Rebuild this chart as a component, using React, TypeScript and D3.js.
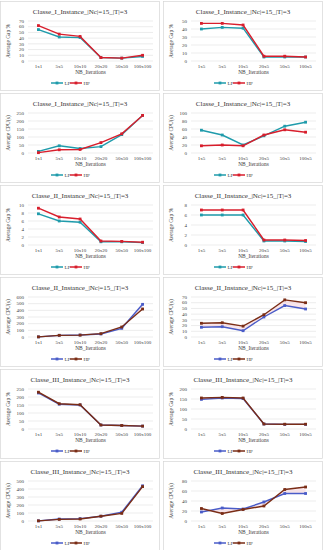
import { useEffect, useRef } from "react"
import * as d3 from "d3"

const catsSquare = ["1x1", "5x5", "10x10", "20x20", "50x50", "100x100"]
const catsFixed = ["1x5", "5x5", "10x5", "20x5", "50x5", "100x5"]

const titles = [
  "Classe_I_Instance_|Nc|=15_|T|=3",
  "Classe_II_Instance_|Nc|=15_|T|=3",
  "Classe_III_Instance_|Nc|=15_|T|=3",
]

// Class I
const c1GapSqLP = [55, 42, 41, 6, 5, 8]
const c1GapSqHP = [62, 47, 43, 6, 5, 10]
const c1GapFxLP = [40, 42, 41, 5, 5, 5]
const c1GapFxHP = [47, 47, 45, 6, 6, 5]
const c1CpuSqLP = [10, 45, 28, 40, 115, 235]
const c1CpuSqHP = [2, 20, 22, 65, 120, 235]
const c1CpuFxLP = [57, 45, 20, 43, 67, 77]
const c1CpuFxHP = [18, 20, 18, 45, 58, 52]

// Class II
const c2GapSqLP = [7.8, 6, 5.7, 0.8, 0.8, 0.6]
const c2GapSqHP = [9.2, 7, 6.5, 1, 0.9, 0.7]
const c2GapFxLP = [6, 6, 6, 0.8, 0.8, 0.7]
const c2GapFxHP = [7, 7, 7, 1, 1, 0.9]
const c2CpuSqLP = [2, 25, 30, 45, 130, 490]
const c2CpuSqHP = [2, 25, 28, 50, 150, 420]
const c2CpuFxLP = [17, 18, 11, 35, 55, 49]
const c2CpuFxHP = [24, 25, 19, 39, 65, 60]

// Class III
const c3GapSqLP = [225, 155, 150, 25, 22, 18]
const c3GapSqHP = [230, 158, 152, 25, 22, 18]
const c3GapFxLP = [148, 155, 152, 25, 23, 23]
const c3GapFxHP = [155, 158, 155, 25, 24, 24]
const c3CpuSqLP = [2, 25, 30, 60, 110, 440]
const c3CpuSqHP = [2, 20, 25, 60, 95, 430]
const c3CpuFxLP = [18, 26, 24, 38, 55, 55]
const c3CpuFxHP = [25, 15, 23, 30, 63, 68]

const gapLabel = "Average Gap %"
const cpuLabel = "Average CPU(s)"

const tealRed = { lp: "#1f9bab", hp: "#d81e2c", shade: false }
const blueBrown = { lp: "#4a5cc8", hp: "#7a2d16", shade: true }

const panels = [
  { title: titles[0], yLabel: gapLabel, cats: catsSquare, lp: c1GapSqLP, hp: c1GapSqHP, max: 70, step: 10, pal: tealRed },
  { title: titles[0], yLabel: gapLabel, cats: catsFixed, lp: c1GapFxLP, hp: c1GapFxHP, max: 50, step: 10, pal: tealRed },
  { title: titles[0], yLabel: cpuLabel, cats: catsSquare, lp: c1CpuSqLP, hp: c1CpuSqHP, max: 250, step: 50, pal: tealRed },
  { title: titles[0], yLabel: cpuLabel, cats: catsFixed, lp: c1CpuFxLP, hp: c1CpuFxHP, max: 100, step: 20, pal: tealRed },
  { title: titles[1], yLabel: gapLabel, cats: catsSquare, lp: c2GapSqLP, hp: c2GapSqHP, max: 10, step: 2, pal: tealRed },
  { title: titles[1], yLabel: gapLabel, cats: catsFixed, lp: c2GapFxLP, hp: c2GapFxHP, max: 8, step: 2, pal: tealRed },
  { title: titles[1], yLabel: cpuLabel, cats: catsSquare, lp: c2CpuSqLP, hp: c2CpuSqHP, max: 600, step: 100, pal: blueBrown },
  { title: titles[1], yLabel: cpuLabel, cats: catsFixed, lp: c2CpuFxLP, hp: c2CpuFxHP, max: 70, step: 10, pal: blueBrown },
  { title: titles[2], yLabel: gapLabel, cats: catsSquare, lp: c3GapSqLP, hp: c3GapSqHP, max: 250, step: 50, pal: blueBrown },
  { title: titles[2], yLabel: gapLabel, cats: catsFixed, lp: c3GapFxLP, hp: c3GapFxHP, max: 200, step: 50, pal: blueBrown },
  { title: titles[2], yLabel: cpuLabel, cats: catsSquare, lp: c3CpuSqLP, hp: c3CpuSqHP, max: 500, step: 100, pal: blueBrown },
  { title: titles[2], yLabel: cpuLabel, cats: catsFixed, lp: c3CpuFxLP, hp: c3CpuFxHP, max: 80, step: 20, pal: blueBrown },
]

const font = "'Liberation Serif', 'DejaVu Serif', serif"
const textColor = "#404040"

export default function App() {
  const svgRef = useRef<SVGSVGElement>(null)

  useEffect(() => {
    document.body.style.margin = "0"
    if (!svgRef.current) return
    d3.select(svgRef.current).selectAll("*").remove()

    const width = 323
    const height = 550
    const pw = 160
    const ph = 90
    const colX = [0, 163]
    const rowStride = 92

    const svg = d3.select(svgRef.current).attr("width", width).attr("height", height)
    svg.append("rect").attr("width", width).attr("height", height).attr("fill", "white")

    const margin = { top: 20, right: 7, bottom: 30, left: 28 }
    const cw = pw - margin.left - margin.right
    const ch = ph - margin.top - margin.bottom

    panels.forEach((p, i) => {
      const col = i % 2
      const row = Math.floor(i / 2)
      const g = svg.append("g").attr("transform", `translate(${colX[col]},${row * rowStride + 1})`)

      g.append("rect")
        .attr("x", 0.5)
        .attr("y", 0.5)
        .attr("width", pw - 1)
        .attr("height", ph - 1)
        .attr("fill", "white")
        .attr("stroke", "#d6d6d6")
        .attr("stroke-width", 0.7)

      g.append("text")
        .attr("x", pw / 2)
        .attr("y", 13)
        .attr("text-anchor", "middle")
        .style("font-family", font)
        .style("font-size", "7px")
        .style("fill", "#333")
        .text(p.title)

      const plot = g.append("g").attr("transform", `translate(${margin.left},${margin.top})`)

      const x = d3.scalePoint<string>().domain(p.cats).range([0, cw]).padding(0.5)
      const y = d3.scaleLinear().domain([0, p.max]).range([ch, 0])
      const ticks = d3.range(0, p.max + p.step / 2, p.step)

      plot.selectAll(".grid")
        .data(ticks)
        .enter()
        .append("line")
        .attr("x1", 0)
        .attr("x2", cw)
        .attr("y1", (d) => y(d))
        .attr("y2", (d) => y(d))
        .attr("stroke", "#d9d9d9")
        .attr("stroke-width", 0.5)

      plot.selectAll(".ytick")
        .data(ticks)
        .enter()
        .append("text")
        .attr("x", -4)
        .attr("y", (d) => y(d))
        .attr("dy", "0.35em")
        .attr("text-anchor", "end")
        .style("font-family", font)
        .style("font-size", "5px")
        .style("fill", textColor)
        .text((d) => d)

      plot.selectAll(".xtick")
        .data(p.cats)
        .enter()
        .append("text")
        .attr("x", (d) => x(d) || 0)
        .attr("y", ch + 6.5)
        .attr("text-anchor", "middle")
        .style("font-family", font)
        .style("font-size", "5px")
        .style("fill", textColor)
        .text((d) => d)

      plot.append("text")
        .attr("x", cw / 2)
        .attr("y", ch + 13)
        .attr("text-anchor", "middle")
        .style("font-family", font)
        .style("font-size", "5.4px")
        .style("fill", textColor)
        .text("NB_Iterations")

      plot.append("text")
        .attr("transform", "rotate(-90)")
        .attr("x", -ch / 2)
        .attr("y", -18)
        .attr("text-anchor", "middle")
        .style("font-family", font)
        .style("font-size", "5.4px")
        .style("fill", textColor)
        .text(p.yLabel)

      // faint shading between series
      if (p.pal.shade) {
        const area = d3
          .area<number>()
          .x((_, k) => x(p.cats[k]) || 0)
          .y0((_, k) => y(p.lp[k]))
          .y1((_, k) => y(p.hp[k]))
        plot.append("path")
          .attr("d", area(p.lp))
          .attr("fill", "#f4c7d3")
          .attr("opacity", 0.45)
      }

      const line = d3
        .line<number>()
        .x((_, k) => x(p.cats[k]) || 0)
        .y((d) => y(d))

      const series = [
        { vals: p.lp, color: p.pal.lp },
        { vals: p.hp, color: p.pal.hp },
      ]
      series.forEach((s) => {
        plot.append("path")
          .attr("d", line(s.vals))
          .attr("fill", "none")
          .attr("stroke", s.color)
          .attr("stroke-width", 1.4)
        plot.selectAll(null)
          .data(s.vals)
          .enter()
          .append("rect")
          .attr("x", (_, k) => (x(p.cats[k]) || 0) - 1.4)
          .attr("y", (d) => y(d) - 1.4)
          .attr("width", 2.8)
          .attr("height", 2.8)
          .attr("fill", s.color)
      })

      // legend
      const ly = 82
      const cx = pw / 2
      const legend = [
        { name: "LP", color: p.pal.lp, x0: cx - 17 },
        { name: "HP", color: p.pal.hp, x0: cx + 2 },
      ]
      legend.forEach((l) => {
        g.append("line")
          .attr("x1", l.x0 - 12)
          .attr("x2", l.x0)
          .attr("y1", ly)
          .attr("y2", ly)
          .attr("stroke", l.color)
          .attr("stroke-width", 1.5)
        g.append("rect")
          .attr("x", l.x0 - 7.4)
          .attr("y", ly - 1.4)
          .attr("width", 2.8)
          .attr("height", 2.8)
          .attr("fill", l.color)
        g.append("text")
          .attr("x", l.x0 + 1.5)
          .attr("y", ly)
          .attr("dy", "0.35em")
          .style("font-family", font)
          .style("font-size", "5px")
          .style("fill", textColor)
          .text(l.name)
      })
    })
  }, [])

  return <svg ref={svgRef} style={{ display: "block" }}></svg>
}
